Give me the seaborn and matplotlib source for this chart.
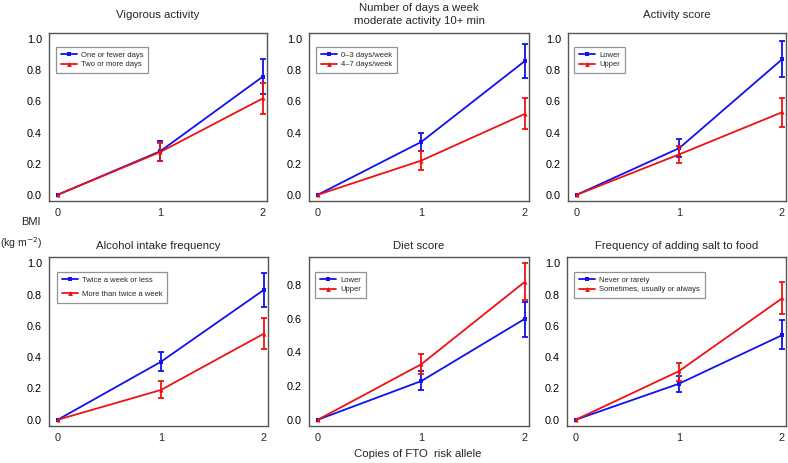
#!/usr/bin/env python3
# -*- coding: utf-8 -*-
"""
plot.py

BMI difference by copies of FTO risk allele, stratified by lifestyle factors
"""

import matplotlib

matplotlib.use("Agg")
import matplotlib.pyplot as plt
import numpy as np
import pandas as pd
import seaborn as sns

# Data: centre, lower and upper bounds per copies 0/1/2
COPIES = [0, 1, 2]

TITLES = [
    "Vigorous activity",
    "Number of days a week\nmoderate activity 10+ min",
    "Activity score",
    "Alcohol intake frequency",
    "Diet score",
    "Frequency of adding salt to food",
]

GROUPS = [
    ["One or fewer days", "Two or more days"],
    ["0\u20133 days/week", "4\u20137 days/week"],
    ["Lower", "Upper"],
    ["Twice a week or less", "More than twice a week"],
    ["Lower", "Upper"],
    ["Never or rarely", "Sometimes, usually or always"],
]

# first group (blue)
blue_mean = [
    [0, 0.28, 0.76],
    [0, 0.34, 0.86],
    [0, 0.30, 0.87],
    [0, 0.37, 0.83],
    [0, 0.23, 0.60],
    [0, 0.23, 0.54],
]
blue_low = [
    [0, 0.22, 0.65],
    [0, 0.28, 0.75],
    [0, 0.24, 0.76],
    [0, 0.31, 0.72],
    [0, 0.175, 0.49],
    [0, 0.175, 0.45],
]
blue_high = [
    [0, 0.345, 0.87],
    [0, 0.40, 0.97],
    [0, 0.36, 0.99],
    [0, 0.43, 0.94],
    [0, 0.29, 0.70],
    [0, 0.28, 0.635],
]

# second group (red)
red_mean = [
    [0, 0.275, 0.62],
    [0, 0.22, 0.52],
    [0, 0.26, 0.53],
    [0, 0.19, 0.55],
    [0, 0.33, 0.82],
    [0, 0.31, 0.775],
]
red_low = [
    [0, 0.22, 0.52],
    [0, 0.16, 0.42],
    [0, 0.205, 0.435],
    [0, 0.14, 0.455],
    [0, 0.27, 0.71],
    [0, 0.25, 0.675],
]
red_high = [
    [0, 0.33, 0.72],
    [0, 0.28, 0.62],
    [0, 0.315, 0.625],
    [0, 0.245, 0.65],
    [0, 0.39, 0.93],
    [0, 0.365, 0.88],
]

BLUE = "#1010f0"
RED = "#ee1111"
FIG_W, FIG_H = 788, 463

# axes boxes in pixels (left, top, right, bottom)
BOXES = [
    (49, 33, 267, 201),
    (309, 33, 529, 201),
    (568, 33, 786, 201),
    (49, 257, 268, 426),
    (309, 257, 529, 426),
    (567, 257, 786, 426),
]
# legend box (left, top) in pixels
LEGEND_POS = [(56, 47), (316, 47), (574, 47), (57, 272), (315, 272), (574, 272)]
TITLE_PAD = [10.5, 6.5, 10.5, 6, 6, 6]
YMAX = [1.0, 1.0, 1.0, 1.0, 0.93, 1.0]


def make_frame(i):
    """Long table for one panel"""
    rows = []
    for g, (m, lo, hi) in enumerate(
        [
            (blue_mean[i], blue_low[i], blue_high[i]),
            (red_mean[i], red_low[i], red_high[i]),
        ]
    ):
        for c, v, l, h in zip(COPIES, m, lo, hi):
            rows.append(
                {"copies": c, "bmi": v, "low": l, "high": h, "group": GROUPS[i][g]}
            )
    return pd.DataFrame(rows)


sns.set_style("white")
plt.rcParams["font.family"] = ["Liberation Sans", "DejaVu Sans"]

fig = plt.figure(figsize=(FIG_W / 100, FIG_H / 100), dpi=100)

for i in range(6):
    l, t, r, b = BOXES[i]
    ax = fig.add_axes(
        [l / FIG_W, 1 - b / FIG_H, (r - l) / FIG_W, (b - t) / FIG_H]
    )
    df = make_frame(i)

    sns.lineplot(
        data=df,
        x="copies",
        y="bmi",
        hue="group",
        style="group",
        markers=["s", "^"],
        dashes=False,
        palette=[BLUE, RED],
        linewidth=1.3,
        markersize=3,
        markeredgewidth=0,
        ax=ax,
    )

    # Error bars
    for g, col in zip(GROUPS[i], [BLUE, RED]):
        sub = df[(df["group"] == g) & (df["copies"] > 0)]
        ax.errorbar(
            sub["copies"],
            sub["bmi"],
            yerr=[sub["bmi"] - sub["low"], sub["high"] - sub["bmi"]],
            fmt="none",
            ecolor=col,
            elinewidth=1.3,
            capsize=2.5,
            capthick=1.3,
        )

    ymax = YMAX[i]
    ax.set_ylim(-0.04 * ymax, ymax * 1.04)
    ax.set_xlim(-0.085, 2.04)
    ax.set_xticks(COPIES)
    if ymax < 1:
        ax.set_yticks(np.arange(0, 0.81, 0.2))
    else:
        ax.set_yticks(np.arange(0, 1.01, 0.2))
    ax.set_yticklabels([f"{v:.1f}" for v in ax.get_yticks()])
    ax.tick_params(axis="y", direction="out", length=3, width=0.8,
                   labelsize=7.8, pad=2, colors="#333333", labelcolor="black")
    ax.tick_params(axis="x", length=0, labelsize=7.8, pad=5)
    ax.set_xlabel("")
    ax.set_ylabel("")
    for sp in ax.spines.values():
        sp.set_color("#555555")
        sp.set_linewidth(1.0)

    ax.set_title(TITLES[i], fontsize=8.2, pad=TITLE_PAD[i], linespacing=1.4)

    # Legend
    handles, labels = ax.get_legend_handles_labels()
    lx, ly = LEGEND_POS[i]
    leg = ax.legend(
        handles,
        labels,
        loc="upper left",
        bbox_to_anchor=((lx - l) / (r - l), 1 - (ly - t) / (b - t)),
        borderaxespad=0,
        fontsize=5.5,
        frameon=True,
        fancybox=False,
        handlelength=2.2,
        handletextpad=0.5,
        labelspacing=0.25 if i != 3 else 0.9,
        borderpad=0.6,
    )
    leg.get_frame().set_edgecolor("#777777")
    leg.get_frame().set_linewidth(0.9)
    for h in leg.get_lines():
        h.set_markersize(3.5)

fig.text(31 / FIG_W, 1 - 222 / FIG_H, "BMI", ha="center", va="center", fontsize=8)
fig.text(21 / FIG_W, 1 - 243 / FIG_H, "(kg m$^{-2}$)", ha="center",
         va="center", fontsize=7.6)
fig.text(418 / FIG_W, 1 - 454 / FIG_H, "Copies of FTO  risk allele",
         ha="center", va="center", fontsize=8.2)

fig.savefig("out.png", dpi=100)
